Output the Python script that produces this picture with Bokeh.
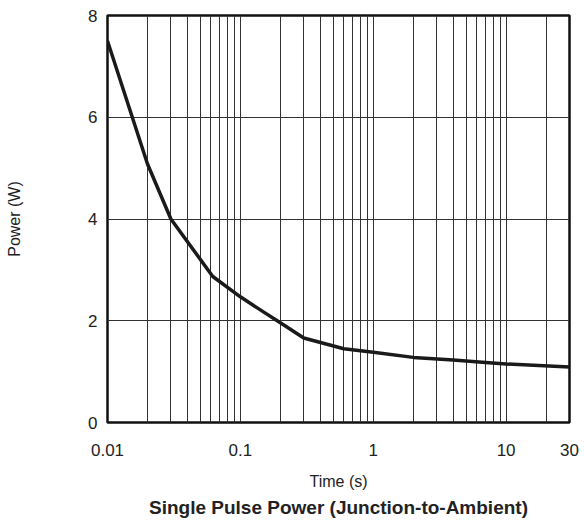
from bokeh.plotting import figure
from bokeh.models import Range1d, FixedTicker, CustomJSTickFormatter, Title
from bokeh.embed import file_html
from bokeh.resources import INLINE

# Data
time_s = [0.01, 0.02, 0.03, 0.062, 0.1, 0.15, 0.2, 0.3, 0.6, 1, 2, 4, 7, 10, 30]
power_w = [7.5, 5.08, 4.0, 2.87, 2.47, 2.17, 1.96, 1.66, 1.45, 1.38, 1.28, 1.23, 1.18, 1.15, 1.09]

x_tick_values = [0.01, 0.1, 1, 10, 30]
x_grid_values = [0.02, 0.03, 0.04, 0.05, 0.06, 0.07, 0.08, 0.09,
                 0.1, 0.2, 0.3, 0.4, 0.5, 0.6, 0.7, 0.8, 0.9,
                 1, 2, 3, 4, 5, 6, 7, 8, 9, 10, 20]
y_tick_values = [0, 2, 4, 6, 8]
y_grid_values = [2, 4, 6]

FONT = "Liberation Sans"

p = figure(width=584, height=525, x_axis_type="log",
           x_range=Range1d(0.01, 30), y_range=Range1d(0, 8),
           output_backend="svg", toolbar_location=None,
           min_border_left=107, min_border_right=15,
           min_border_top=15, min_border_bottom=103)

p.background_fill_color = "white"
p.border_fill_color = "white"
p.outline_line_color = "#111111"
p.outline_line_width = 2.5

p.line(time_s, power_w, line_color="#1a1a1a", line_width=3.5, line_join="round")

# axes
p.xaxis.ticker = FixedTicker(ticks=x_tick_values)
p.xaxis.formatter = CustomJSTickFormatter(code="return tick.toString();")
p.yaxis.ticker = FixedTicker(ticks=y_tick_values)

# grid
p.xgrid.ticker = FixedTicker(ticks=x_grid_values)
p.ygrid.ticker = FixedTicker(ticks=y_grid_values)
p.xgrid.grid_line_color = "#333333"
p.ygrid.grid_line_color = "#333333"
p.xgrid.grid_line_width = 1
p.ygrid.grid_line_width = 1

for ax in (p.xaxis, p.yaxis):
    ax.axis_line_color = None
    ax.major_tick_line_color = None
    ax.minor_tick_line_color = None
    ax.major_tick_out = 0
    ax.major_tick_in = 0
    ax.minor_tick_out = 0
    ax.minor_tick_in = 0
    ax.major_label_text_font = FONT
    ax.major_label_text_font_size = "17px"
    ax.major_label_text_color = "#222222"
    ax.axis_label_text_font = FONT
    ax.axis_label_text_font_size = "16px"
    ax.axis_label_text_font_style = "normal"
    ax.axis_label_text_color = "#222222"

p.xaxis.axis_label = "Time (s)"
p.xaxis.major_label_standoff = 21
p.xaxis.axis_label_standoff = 14

p.yaxis.axis_label = "Power (W)"
p.yaxis.major_label_standoff = 10
p.yaxis.axis_label_standoff = 62

title = Title(text="Single Pulse Power (Junction-to-Ambient)", align="center",
              text_font=FONT, text_font_size="19px", text_font_style="bold",
              text_color="#222222", standoff=4)
p.add_layout(title, "below")

open("out.html", "w").write(file_html(p, INLINE))
